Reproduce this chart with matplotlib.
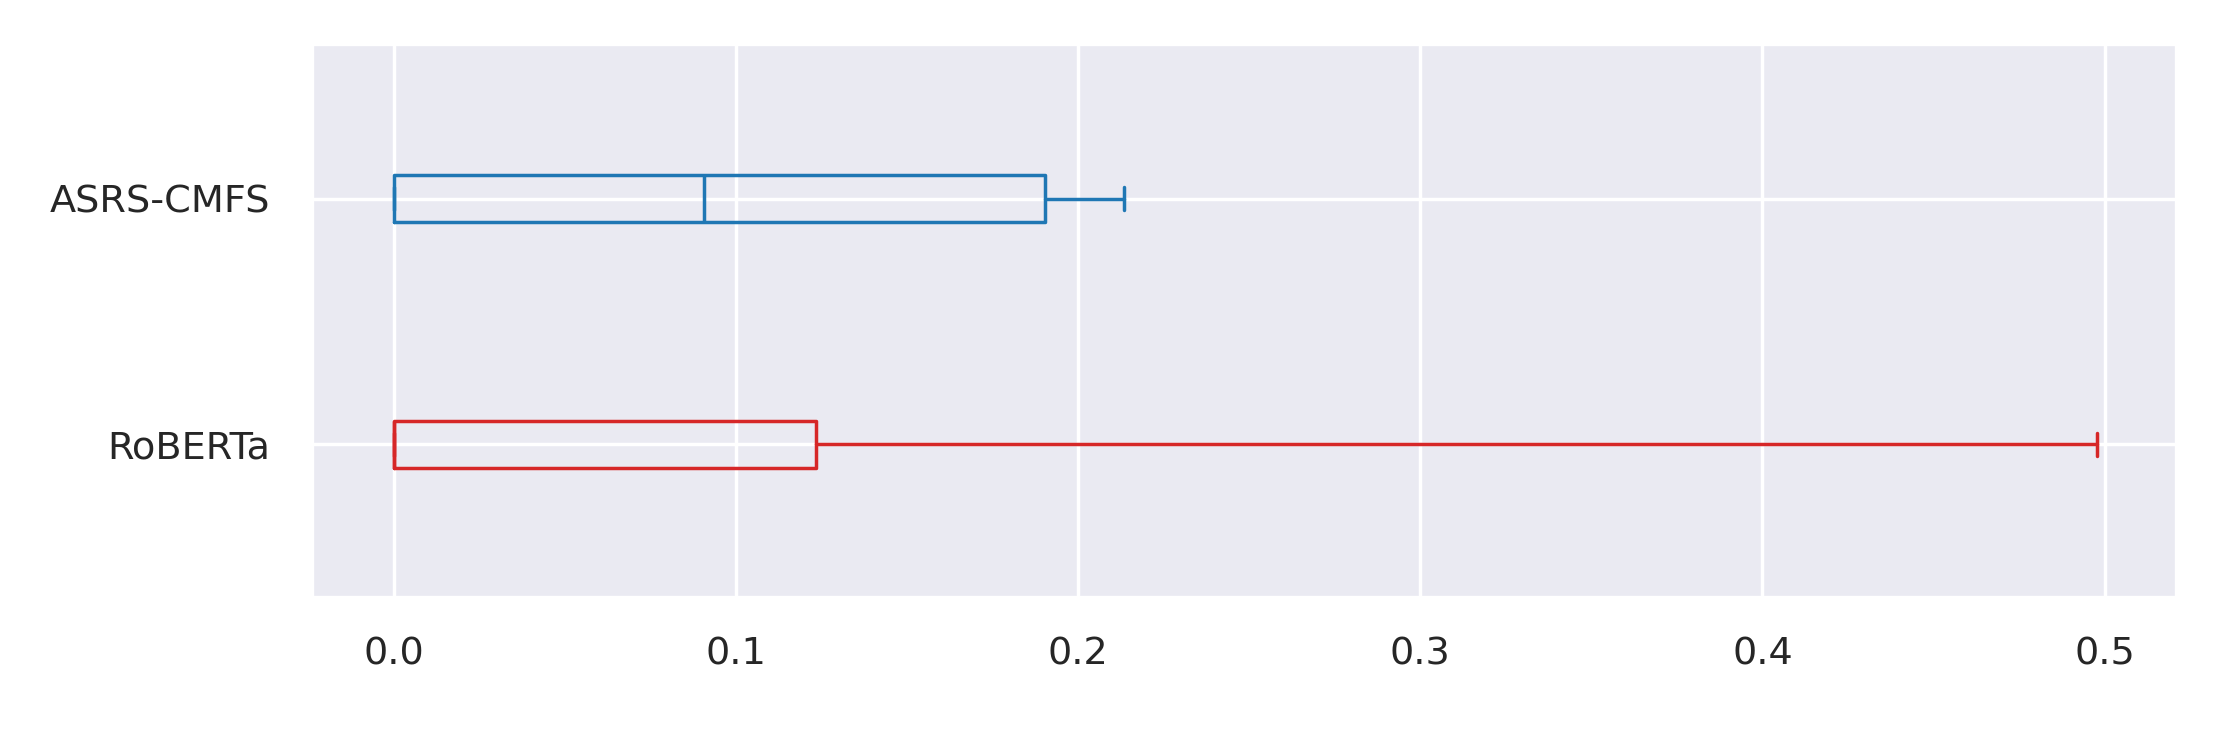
import matplotlib
matplotlib.use("Agg")
import matplotlib.pyplot as plt
import seaborn as sns

# box statistics (bottom to top)
models = ["RoBERTa", "ASRS-CMFS"]
whis_lo = [0.0, 0.0]
q1 = [0.0, 0.0]
medians = [0.0, 0.0905]
q3 = [0.1234, 0.1903]
whis_hi = [0.4977, 0.2133]
colors = ["#d62728", "#1f77b4"]

sns.set_theme(style="darkgrid")

DPI = 250
fig = plt.figure(figsize=(2221 / DPI, 730 / DPI), dpi=DPI)
ax = fig.add_axes([0.1403, 0.1808, 0.8399, 0.7589])

stats = []
for i, name in enumerate(models):
    stats.append(dict(label=name, whislo=whis_lo[i], q1=q1[i], med=medians[i],
                      q3=q3[i], whishi=whis_hi[i], fliers=[]))

for i, st in enumerate(stats):
    c = colors[i]
    ax.bxp([st], positions=[i + 1], widths=0.19, vert=False, showfliers=False,
           boxprops=dict(color=c, linewidth=1.0),
           medianprops=dict(color=c, linewidth=1.0),
           whiskerprops=dict(color=c, linewidth=1.0),
           capprops=dict(color=c, linewidth=1.0))

ax.set_yticks([1, 2])
ax.set_yticklabels(models)
ax.set_ylim(0.375, 2.63)
ax.set_xlim(-0.0241, 0.5212)
ax.set_xticks([0.0, 0.1, 0.2, 0.3, 0.4, 0.5])
ax.tick_params(axis="y", pad=6)
ax.tick_params(axis="x", pad=5)

fig.savefig("out.png", dpi=DPI)
